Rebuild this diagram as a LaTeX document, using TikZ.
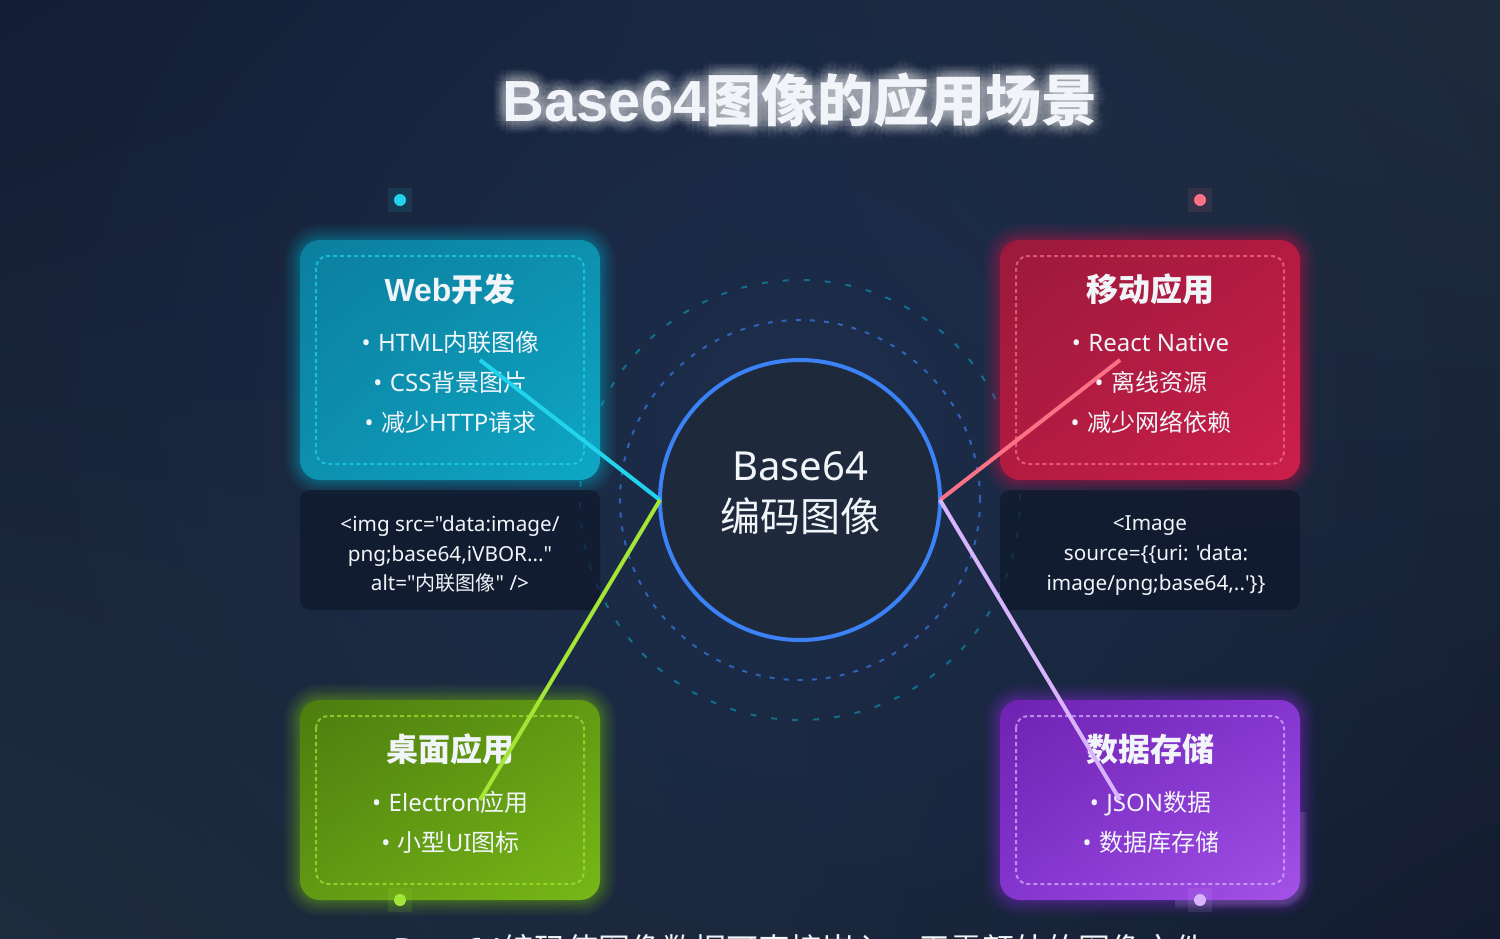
\documentclass[tikz,border=0pt]{standalone}
\usepackage{fontspec}
\setmainfont{Noto Sans}
\newfontfamily\zh{Noto Sans CJK SC}
\newfontfamily\boldlatin{Liberation Sans}
\newfontfamily\codefont{Noto Sans}
\usetikzlibrary{fadings,shadings,calc}
\newcommand{\fsz}[1]{\fontsize{#1}{#1}\selectfont}
\newcommand{\bul}{•\hspace{7.5pt}}
\newcommand{\titletext}{{\fsz{58}\boldlatin\bfseries Base64}{\zh 图像的应用场景}}
\definecolor{textwhite}{HTML}{F1F5F9}
\definecolor{hubblue}{HTML}{3B82F6}
\definecolor{hubfill}{HTML}{1E293B}
\definecolor{ringteal}{HTML}{06B6D4}
\definecolor{codefill}{HTML}{0F172A}
\definecolor{bgdarkA}{HTML}{131D36}
\definecolor{bgdarkB}{HTML}{131C30}
\definecolor{bglightA}{HTML}{1F2A3C}
\definecolor{bglightB}{HTML}{1F2C3E}
\definecolor{webline}{HTML}{22D3EE}
\definecolor{mobline}{HTML}{FB7185}
\definecolor{deskline}{HTML}{A3E635}
\definecolor{dataline}{HTML}{D8B4FE}
\definecolor{mobglow}{HTML}{E11D48}
\definecolor{deskglow}{HTML}{84CC16}
\definecolor{dataglow}{HTML}{9333EA}
\definecolor{cardwebA}{HTML}{0C7E9E}
\definecolor{cardwebB}{HTML}{0D90AE}
\definecolor{cardwebC}{HTML}{0EA7C6}
\definecolor{cardmobA}{HTML}{9A1A3B}
\definecolor{cardmobB}{HTML}{B31B41}
\definecolor{cardmobC}{HTML}{CC1F4B}
\definecolor{carddeskA}{HTML}{4D7C0F}
\definecolor{carddeskB}{HTML}{619A14}
\definecolor{carddeskC}{HTML}{78B816}
\definecolor{carddataA}{HTML}{6F22B0}
\definecolor{carddataB}{HTML}{8435CF}
\definecolor{carddataC}{HTML}{A452E6}
\tikzfading[name=softglow, inner color=transparent!0, outer color=transparent!100]
\tikzset{
    cardbox/.style={rectangle, rounded corners=20pt, minimum width=300pt, minimum height=240pt, inner sep=0pt, outer sep=0pt, shade},
    dashbox/.style={rounded corners=12pt, line width=2pt, dash pattern=on 4pt off 3pt},
    codebox/.style={rectangle, rounded corners=10pt, fill=codefill, fill opacity=.7, minimum width=300pt, minimum height=120pt, inner sep=0pt, outer sep=0pt},
    headtext/.style={text=textwhite, font=\fsz{32}\bfseries\zh},
    itemtext/.style={text=textwhite, font=\fsz{24}, anchor=base},
    codetext/.style={text=textwhite, font=\fsz{20.7}\codefont, align=center},
    linkline/.style={line width=4pt},
    halo/.style={rectangle, minimum size=24pt, inner sep=0pt, fill opacity=.11},
    dot/.style={circle, minimum size=12pt, inner sep=0pt},
}
\begin{document}
\begin{tikzpicture}[x=1pt, y=-1pt]
    \clip (0,0) rectangle (1500,938);
    % background
    \shade[upper left=bgdarkA, upper right=bglightA, lower left=bglightB, lower right=bgdarkB] (0,0) rectangle (1500,938);
    \fill[hubblue, opacity=.1, path fading=softglow] (800,420) circle (800pt);
    % rings
    \draw[hubblue, opacity=.65, line width=2pt, dash pattern=on 5pt off 9.1pt] (800,500) circle (180pt);
    \draw[ringteal, opacity=.5, line width=2pt, dash pattern=on 6pt off 15pt] (800,500) circle (220pt);
    % title
    \foreach \r in {3,5,...,13}
        \foreach \a in {0,30,...,330}
            \node[text=white, text opacity=.025, font=\fsz{56}\bfseries] (glow\r\a) at ($(800,100)+(\a:\r pt)$) {\titletext};
    \node[text=textwhite, font=\fsz{56}\bfseries] (title) at (800,100) {\titletext};
    % glow under the cards
    \foreach \c/\x/\y/\h in {ringteal/300/240/240, mobglow/1000/240/240, deskglow/300/700/200, dataglow/1000/700/200}
        \foreach \w in {2,4,6,8,10,12,14,17,20,24,28,32}
            \draw[\c, opacity=.04, line width=\w pt, rounded corners=20pt] (\x,\y) rectangle ++(300,\h);
    % smear beside the last card
    \foreach \w in {4,7,10,13}
        \draw[dataline, opacity=.05, line width=\w pt, rounded corners=20pt] (1301,812) -- (1301,902) -- (1175,902);
    % cards
    \node[cardbox, upper left=cardwebA, upper right=cardwebB, lower left=cardwebB, lower right=cardwebC] (web) at (450,360) {};
    \node[cardbox, upper left=cardmobA, upper right=cardmobB, lower left=cardmobB, lower right=cardmobC] (mobile) at (1150,360) {};
    \node[cardbox, minimum height=200pt, upper left=carddeskA, upper right=carddeskB, lower left=carddeskB, lower right=carddeskC] (desk) at (450,800) {};
    \node[cardbox, minimum height=200pt, upper left=carddataA, upper right=carddataB, lower left=carddataB, lower right=carddataC] (data) at (1150,800) {};
    % dashed frames
    \draw[dashbox, webline, opacity=.7] (316,256) rectangle (584,464);
    \draw[dashbox, mobline, opacity=.7] (1016,256) rectangle (1284,464);
    \draw[dashbox, deskline, opacity=.7] (316,716) rectangle (584,884);
    \draw[dashbox, dataline, opacity=.7] (1016,716) rectangle (1284,884);
    % card texts
    \node[headtext] (webhead) at (450,289) {{\boldlatin\bfseries Web}开发};
    \node[itemtext] (web1) at (450.5,351) {\bul HTML{\zh 内联图像}};
    \node[itemtext] (web2) at (450.5,391) {\bul CSS{\zh 背景图片}};
    \node[itemtext] (web3) at (450.5,431) {\bul{\zh 减少}HTTP{\zh 请求}};
    \node[headtext] (mobhead) at (1150,289) {移动应用};
    \node[itemtext] (mob1) at (1150.5,351) {\bul React Native};
    \node[itemtext] (mob2) at (1151,391) {\bul{\zh 离线资源}};
    \node[itemtext] (mob3) at (1151,431) {\bul{\zh 减少网络依赖}};
    \node[headtext] (deskhead) at (450,749) {桌面应用};
    \node[itemtext] (desk1) at (450.5,811) {\bul Electron{\zh 应用}};
    \node[itemtext] (desk2) at (450.5,851) {\bul{\zh 小型}UI{\zh 图标}};
    \node[headtext] (datahead) at (1150,749) {数据存储};
    \node[itemtext] (data1) at (1150.5,811) {\bul JSON{\zh 数据}};
    \node[itemtext] (data2) at (1151,851) {\bul{\zh 数据库存储}};
    % code boxes
    \node[codebox] (webcode) at (450,550) {};
    \node[codebox] (mobcode) at (1150,550) {};
    \node[codetext] (webcodetext) at (450,554) {<img src="data:image/\\[9.3pt]png;base64,iVBOR..."\\[7pt]alt="{\fsz{20}\zh 内联图像}" />};
    \node[codetext] (mobcodetext) at (1156,556) {\hspace*{-12pt}<Image\\[9.3pt]source=\{\{uri: 'data:\\[9.3pt]image/png;base64,..'\}\}};
    % hub
    \node[circle, draw=hubblue, fill=hubfill, line width=4pt, minimum size=280pt, inner sep=0pt, outer sep=0pt] (hub) at (800,500) {};
    \node[text=textwhite, font=\fsz{40}] (hubtop) at (800,466) {Base64};
    \node[text=textwhite, font=\fsz{40}\zh] (hubbottom) at (800,516) {编码图像};
    % dots
    \foreach \n/\c/\x/\y in {webdot/webline/400/200, mobdot/mobline/1200/200, deskdot/deskline/400/900, datadot/dataline/1200/900} {
        \node[halo, fill=\c] (\n halo) at (\x,\y) {};
        \node[dot, fill=\c] (\n) at (\x,\y) {};
    }
    % links
    \coordinate (webend) at (480,360);
    \coordinate (mobend) at (1120,360);
    \coordinate (deskend) at (480,800);
    \coordinate (dataend) at (1120,800);
    \draw[linkline, webline] (hub.west) -- (webend);
    \draw[linkline, deskline] (hub.west) -- (deskend);
    \draw[linkline, mobline] (hub.east) -- (mobend);
    \draw[linkline, dataline] (hub.east) -- (dataend);
    % footer, cut by the page
    \node[text=textwhite, font=\fsz{32}] (footer) at (800,950) {Base64{\zh 编码使图像数据可直接嵌入，无需额外的图像文件}};
\end{tikzpicture}
\end{document}
